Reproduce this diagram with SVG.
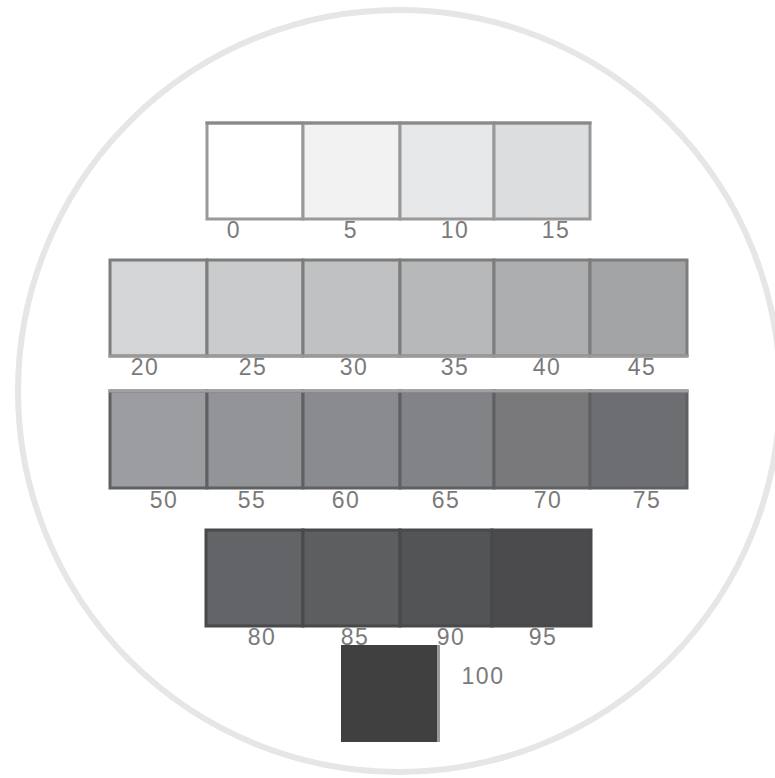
<svg xmlns="http://www.w3.org/2000/svg" width="775" height="778" viewBox="0 0 775 778">
<style>
.lbl{font-family:"Liberation Sans",Arial,sans-serif;font-size:23px;fill:#7a7a7a;text-anchor:middle;letter-spacing:1.5px}
.r1{stroke:#999;stroke-width:3}
.r2{stroke:#7d7d7d;stroke-width:3}
.r3{stroke:#5f6062;stroke-width:3}
.r4{stroke:#48494b;stroke-width:3}
</style>
<rect width="775" height="778" fill="#fff"/>
<circle cx="399" cy="391" r="381" fill="none" stroke="#e6e6e6" stroke-width="6"/>

<g id="row1">
<g id="s0"><rect class="r1" x="207" y="123" width="96" height="96" fill="#ffffff"/><text class="lbl" x="234" y="238">0</text></g>
<g id="s5"><rect class="r1" x="303" y="123" width="97" height="96" fill="#f2f2f2"/><text class="lbl" x="351" y="238">5</text></g>
<g id="s10"><rect class="r1" x="400" y="123" width="94" height="96" fill="#e7e8e9"/><text class="lbl" x="455" y="238">10</text></g>
<g id="s15"><rect class="r1" x="494" y="123" width="96" height="96" fill="#dcdddf"/><text class="lbl" x="556" y="238">15</text></g>
<line x1="205.5" y1="123" x2="591.5" y2="123" stroke="#8a8a8a" stroke-width="3"/>
</g>

<g id="row2">
<g id="s20"><rect class="r2" x="110" y="260" width="97" height="96" fill="#d4d5d7"/><text class="lbl" x="145" y="375">20</text></g>
<g id="s25"><rect class="r2" x="207" y="260" width="96" height="96" fill="#cacbcd"/><text class="lbl" x="253" y="375">25</text></g>
<g id="s30"><rect class="r2" x="303" y="260" width="97" height="96" fill="#c0c1c3"/><text class="lbl" x="354" y="375">30</text></g>
<g id="s35"><rect class="r2" x="400" y="260" width="94" height="96" fill="#b7b8ba"/><text class="lbl" x="455" y="375">35</text></g>
<g id="s40"><rect class="r2" x="494" y="260" width="96" height="96" fill="#adaeb0"/><text class="lbl" x="547" y="375">40</text></g>
<g id="s45"><rect class="r2" x="590" y="260" width="97" height="96" fill="#a3a4a6"/><text class="lbl" x="642" y="375">45</text></g>
<line x1="108.5" y1="356" x2="688.5" y2="356" stroke="#999" stroke-width="3"/>
</g>

<g id="row3">
<g id="s50"><rect class="r3" x="110" y="391" width="97" height="97" fill="#9c9da0"/><text class="lbl" x="164" y="508">50</text></g>
<g id="s55"><rect class="r3" x="207" y="391" width="96" height="97" fill="#939497"/><text class="lbl" x="252" y="508">55</text></g>
<g id="s60"><rect class="r3" x="303" y="391" width="97" height="97" fill="#8a8b8e"/><text class="lbl" x="346" y="508">60</text></g>
<g id="s65"><rect class="r3" x="400" y="391" width="94" height="97" fill="#828386"/><text class="lbl" x="446" y="508">65</text></g>
<g id="s70"><rect class="r3" x="494" y="391" width="96" height="97" fill="#79797b"/><text class="lbl" x="548" y="508">70</text></g>
<g id="s75"><rect class="r3" x="590" y="391" width="97" height="97" fill="#6d6e71"/><text class="lbl" x="647" y="508">75</text></g>
<line x1="108.5" y1="391" x2="688.5" y2="391" stroke="#a0a0a0" stroke-width="3"/>
</g>

<g id="row4">
<g id="s80"><rect class="r4" x="206" y="530" width="97" height="96" fill="#636467"/><text class="lbl" x="262" y="645">80</text></g>
<g id="s85"><rect class="r4" x="303" y="530" width="97" height="96" fill="#5d5e60"/><text class="lbl" x="355" y="645">85</text></g>
<g id="s90"><rect class="r4" x="400" y="530" width="92" height="96" fill="#535456"/><text class="lbl" x="451" y="645">90</text></g>
<g id="s95"><rect class="r4" x="492" y="530" width="99" height="96" fill="#4b4b4d"/><text class="lbl" x="543" y="645">95</text></g>
</g>

<g id="s100">
<rect x="341" y="645" width="99" height="97" fill="#404040"/>
<line x1="438.5" y1="645" x2="438.5" y2="742" stroke="#9a9a9a" stroke-width="3"/>
<text class="lbl" x="483" y="684">100</text>
</g>
</svg>
